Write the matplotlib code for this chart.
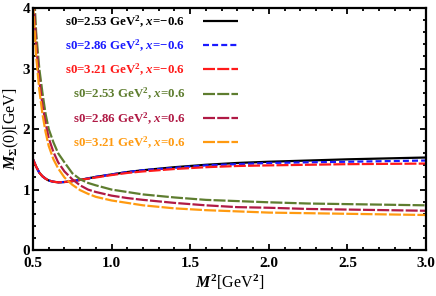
import matplotlib
matplotlib.use("Agg")
import matplotlib.pyplot as plt
from matplotlib.ticker import MultipleLocator

plt.rcParams['font.family'] = ['Liberation Serif', 'DejaVu Serif']
plt.rcParams['font.weight'] = 'bold'
plt.rcParams['mathtext.fontset'] = 'custom'
plt.rcParams['mathtext.rm'] = 'Liberation Serif:bold'
plt.rcParams['mathtext.it'] = 'Liberation Serif:italic:bold'
plt.rcParams['mathtext.bf'] = 'Liberation Serif:bold'

# ---- data ----
M2 = [0.50, 0.52, 0.54, 0.56, 0.58, 0.60, 0.63, 0.66, 0.70, 0.75, 0.80, 0.85,
      0.90, 1.00, 1.10, 1.20, 1.40, 1.60, 1.80, 2.00, 2.25, 2.50, 2.75, 3.00]

black_s253_xm = [1.50, 1.38, 1.28, 1.22, 1.18, 1.15, 1.13, 1.12, 1.125, 1.14, 1.16, 1.185,
                 1.21, 1.25, 1.29, 1.32, 1.37, 1.41, 1.44, 1.46, 1.48, 1.50, 1.515, 1.53]
blue_s286_xm = [1.50, 1.38, 1.28, 1.22, 1.18, 1.15, 1.13, 1.12, 1.125, 1.14, 1.16, 1.185,
                1.21, 1.25, 1.29, 1.32, 1.36, 1.40, 1.42, 1.44, 1.45, 1.46, 1.47, 1.48]
red_s321_xm = [1.50, 1.38, 1.28, 1.22, 1.18, 1.15, 1.13, 1.12, 1.125, 1.14, 1.16, 1.18,
               1.20, 1.24, 1.275, 1.30, 1.34, 1.37, 1.39, 1.40, 1.41, 1.42, 1.425, 1.43]
green_s253_xp = [4.60, 3.60, 3.00, 2.60, 2.25, 2.00, 1.78, 1.60, 1.45, 1.27, 1.17, 1.11,
                 1.07, 1.00, 0.96, 0.92, 0.87, 0.83, 0.81, 0.79, 0.77, 0.76, 0.75, 0.74]
crimson_s286_xp = [4.30, 3.40, 2.80, 2.40, 2.10, 1.85, 1.62, 1.45, 1.30, 1.17, 1.07, 1.00,
                   0.96, 0.90, 0.86, 0.83, 0.78, 0.74, 0.71, 0.70, 0.68, 0.67, 0.66, 0.65]
orange_s321_xp = [4.10, 3.20, 2.65, 2.25, 1.95, 1.72, 1.50, 1.35, 1.20, 1.08, 0.99, 0.93,
                  0.88, 0.82, 0.78, 0.74, 0.69, 0.66, 0.64, 0.62, 0.61, 0.60, 0.59, 0.58]

labels = [r"s0=2.53 GeV$^{2}$, $x$=−0.6",
          r"s0=2.86 GeV$^{2}$, $x$=−0.6",
          r"s0=3.21 GeV$^{2}$, $x$=−0.6",
          r"s0=2.53 GeV$^{2}$, $x$=0.6",
          r"s0=2.86 GeV$^{2}$, $x$=0.6",
          r"s0=3.21 GeV$^{2}$, $x$=0.6"]
series = [black_s253_xm, blue_s286_xm, red_s321_xm,
          green_s253_xp, crimson_s286_xp, orange_s321_xp]
colors = ['#000000', '#1a1aff', '#ff1a1a', '#5e7d2f', '#b01a45', '#ff9a10']
dashes = [None, (2.7, 1.4), (5.4, 1.0), (5.4, 1.0), (5.4, 1.0), (5.4, 1.0)]

fig = plt.figure(figsize=(4.36, 2.96), dpi=100)
ax = fig.add_axes([0.0757, 0.155, 0.9013, 0.818])

lw = 1.6
for y, c, d, lab in zip(series, colors, dashes, labels):
    if d is None:
        ax.plot(M2, y, color=c, lw=lw, label=lab, solid_capstyle='butt')
    else:
        ax.plot(M2, y, color=c, lw=lw, dashes=d, label=lab, dash_capstyle='butt')

ax.set_xlim(0.5, 3.0)
ax.set_ylim(0, 4)
ax.xaxis.set_major_locator(MultipleLocator(0.5))
ax.xaxis.set_minor_locator(MultipleLocator(0.1))
ax.yaxis.set_major_locator(MultipleLocator(1))
ax.yaxis.set_minor_locator(MultipleLocator(0.2))
ax.xaxis.set_major_formatter(matplotlib.ticker.FormatStrFormatter('%.1f'))
ax.tick_params(which='both', direction='in', top=True, right=True,
               labelsize=11, width=1.3, pad=2)
ax.tick_params(axis='x', pad=5)
ax.tick_params(which='major', length=4)
ax.tick_params(which='minor', length=2.5)
for s in ax.spines.values():
    s.set_linewidth(1.6)

ax.set_xlabel(r"$M^{2}$[GeV$^{2}$]", fontsize=11.5, labelpad=2)
ax.set_ylabel(r"$M_{\Sigma}$(0)[GeV]", fontsize=11.5, labelpad=1)

leg = ax.legend(loc='upper right', bbox_to_anchor=(0.522, 0.978), frameon=False,
                markerfirst=False, labelcolor='linecolor', fontsize=9.3,
                handlelength=2.7, handletextpad=1.4, labelspacing=0.62,
                borderpad=0, borderaxespad=0)

fig.savefig("out.png", dpi=100)
